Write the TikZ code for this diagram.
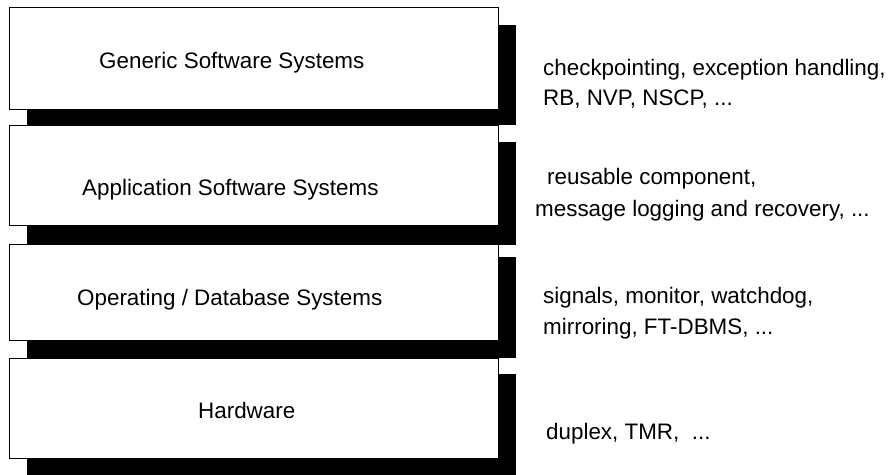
\documentclass[tikz,border=0pt]{standalone}
\usepackage{fontspec}
\setmainfont{Liberation Sans}
\begin{document}
\begin{tikzpicture}[x=1pt,y=-1pt,
  layerbox/.style={draw=black, line width=1.2pt, fill=white, rectangle, inner sep=0pt},
  layershadow/.style={fill=black},
  label/.style={inner sep=0pt, anchor=base west, font=\fontsize{22.4}{27}\selectfont}]
\useasboundingbox (0,0) rectangle (896,474);

% layer boxes, each with its offset black shadow drawn first
\fill[layershadow] (27,25) rectangle (516,125);
\node[layerbox, anchor=north west, minimum width=489pt, minimum height=102pt] (gen) at (9,7) {};
\fill[layershadow] (27,142) rectangle (516,245);
\node[layerbox, anchor=north west, minimum width=489pt, minimum height=100pt] (app) at (9,125) {};
\fill[layershadow] (27,257) rectangle (516,358);
\node[layerbox, anchor=north west, minimum width=489pt, minimum height=96pt] (os) at (9,244) {};
\fill[layershadow] (27,374) rectangle (516,480);
\node[layerbox, anchor=north west, minimum width=489pt, minimum height=100pt] (hw) at (9,358) {};

% layer names
\node[label] (genT) at (99,68) {Generic Software Systems};
\node[label] (appT) at (82,195) {Application Software Systems};
\node[label] (osT) at (77,305) {Operating / Database Systems};
\node[label] (hwT) at (198,418) {Hardware};

% techniques used at each layer
\node[label] (genA) at (543,75) {checkpointing, exception handling,};
\node[label] (genB) at (543,105) {RB, NVP, NSCP, ...};
\node[label] (appA) at (547,184) {reusable component,};
\node[label] (appB) at (535,216) {message logging and recovery, ...};
\node[label] (osA) at (543,303) {signals, monitor, watchdog,};
\node[label] (osB) at (543,334) {mirroring, FT-DBMS, ...};
\node[label] (hwA) at (546,439) {duplex, TMR,\ \ ...};
\end{tikzpicture}
\end{document}
